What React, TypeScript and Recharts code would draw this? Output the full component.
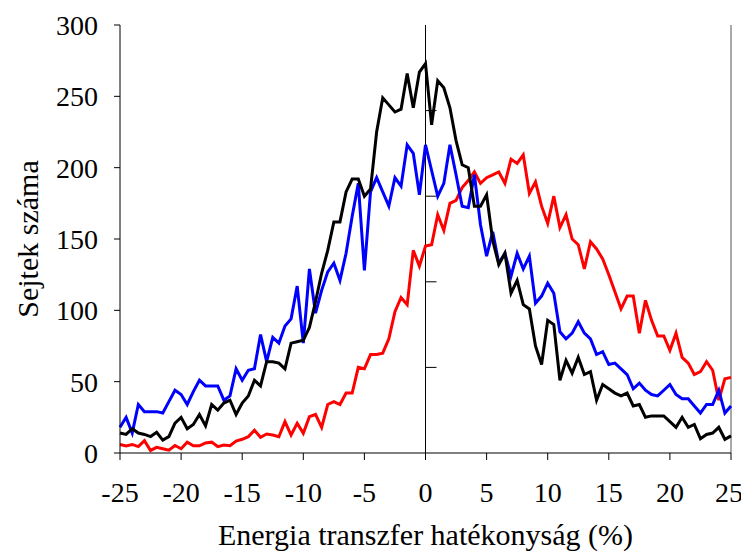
import { LineChart, Line, XAxis, YAxis, ReferenceLine } from "recharts";

// FRET efficiency bins, -25 % .. 25 % in 0.5 % steps
const efficiency = Array.from({ length: 101 }, (_, i) => -25 + i * 0.5);

const blackCounts = [
  14, 13, 17, 14, 13, 11.5, 14.5, 9, 11.5, 21, 25, 17, 20, 27, 19, 34, 30, 35, 37, 27,
  35, 40, 51, 47, 64, 64, 63, 59, 77, 78, 79, 88, 106, 126, 142, 162, 162, 183, 192, 192,
  180, 185, 225, 249, 244, 239, 241, 266, 242, 267, 273, 230, 261, 256, 242, 219, 202, 200, 173, 173,
  181, 149, 132, 140, 112, 121, 104, 101, 75, 62, 93, 90, 51, 65, 56, 67, 55, 57, 37, 48,
  45, 42, 40, 42, 33, 34, 25, 26, 26, 26, 22, 18, 25, 18, 20, 10, 13, 14, 18, 9.6,
  12,
];

const blueCounts = [
  18, 25, 14, 34, 29, 29, 29, 28, 36, 44, 41, 34, 43, 51, 47, 47, 47, 37, 40, 59,
  51, 58, 59, 83, 64, 81, 77, 89, 94, 117, 77, 129, 98, 114, 127, 133, 121, 140, 166, 189,
  128, 183, 193, 183, 173, 193, 187, 216, 210, 181, 216, 198, 180, 189, 216, 195, 173, 172, 195, 160,
  138, 155, 133, 140, 124, 140, 129, 138, 105, 110, 119, 112, 85, 80, 84, 92, 84, 80, 69, 71,
  62, 63, 59, 55, 45, 49, 44, 41, 40, 44, 48, 41, 38, 38, 33, 28, 34, 34, 44, 28,
  33,
];

const redCounts = [
  6, 5, 6, 4.5, 8.7, 1.8, 4, 3, 2, 5.3, 3, 7.6, 5, 5, 7, 7.6, 4.5, 5.6, 5.1, 8.4,
  9.6, 11.4, 16, 11, 13.3, 12.6, 11.4, 22, 12.6, 20.8, 13.8, 25.5, 27, 18, 34, 36, 34, 42, 42, 60,
  59, 69, 69, 70, 80, 99, 109, 104, 142, 131, 145, 146, 167, 156, 175, 177, 186, 191, 197, 189,
  193, 195, 197, 189, 206, 203, 209, 182, 190, 173, 161, 180, 158, 167, 150, 146, 129, 148, 143, 136,
  125, 113, 101, 110, 110, 84, 107, 93, 82, 82, 72, 84, 67, 63, 55, 57, 64, 58, 37, 52,
  53,
];

const xTicks = [-25, -20, -15, -10, -5, 0, 5, 10, 15, 20, 25];
const yTicks = [0, 50, 100, 150, 200, 250, 300];

const data = efficiency.map((x, i) => ({
  x,
  black: blackCounts[i],
  blue: blueCounts[i],
  red: redCounts[i],
}));

const font = "'Liberation Serif', 'Times New Roman', serif";

// vertical line through 0 with its own short inward tick marks (5 divisions)
function ZeroAxis(props: any) {
  const { x1, y1, x2, y2 } = props;
  const top = Math.min(y1, y2);
  const bottom = Math.max(y1, y2);
  const marks = [0.2, 0.4, 0.6, 0.8].map((f) => top + (bottom - top) * f);
  return (
    <g>
      <line x1={x1} y1={y1} x2={x2} y2={y2} stroke="#000" strokeWidth={1} />
      {marks.map((y) => (
        <line key={y} x1={x1} x2={x1 + 11} y1={y} y2={y} stroke="#000" strokeWidth={1} />
      ))}
    </g>
  );
}

export default function App() {
  return (
    <LineChart
      width={735}
      height={544}
      data={data}
      margin={{ top: 17, right: 12, left: 0, bottom: 0 }}
      style={{ fontFamily: font }}
    >
      <XAxis
        dataKey="x"
        type="number"
        domain={[-25, 25]}
        ticks={xTicks}
        height={99}
        tickSize={7}
        tickMargin={22}
        axisLine={{ stroke: "#000" }}
        tickLine={{ stroke: "#000" }}
        tick={{ fill: "#000", fontSize: 28, fontFamily: font }}
        label={{
          value: "Energia transzfer hatékonyság (%)",
          position: "insideBottom",
          offset: 7,
          fill: "#000",
          fontSize: 30,
          fontFamily: font,
        }}
      />
      <YAxis
        type="number"
        domain={[0, 300]}
        ticks={yTicks}
        width={112}
        tickSize={6}
        tickMargin={16}
        axisLine={{ stroke: "#000" }}
        tickLine={{ stroke: "#000" }}
        tick={{ fill: "#000", fontSize: 28, fontFamily: font }}
        label={{
          value: "Sejtek száma",
          angle: -90,
          position: "center",
          dx: -37,
          fill: "#000",
          fontSize: 30,
          fontFamily: font,
        }}
      />
      <ReferenceLine x={25} stroke="#8c8c8c" strokeWidth={1.5} />
      <ReferenceLine x={0} shape={ZeroAxis} />
      <Line type="linear" dataKey="red" stroke="#ff0000" strokeWidth={3} dot={false} isAnimationActive={false} />
      <Line type="linear" dataKey="blue" stroke="#0000ff" strokeWidth={3} dot={false} isAnimationActive={false} />
      <Line type="linear" dataKey="black" stroke="#000000" strokeWidth={3} dot={false} isAnimationActive={false} />
    </LineChart>
  );
}
